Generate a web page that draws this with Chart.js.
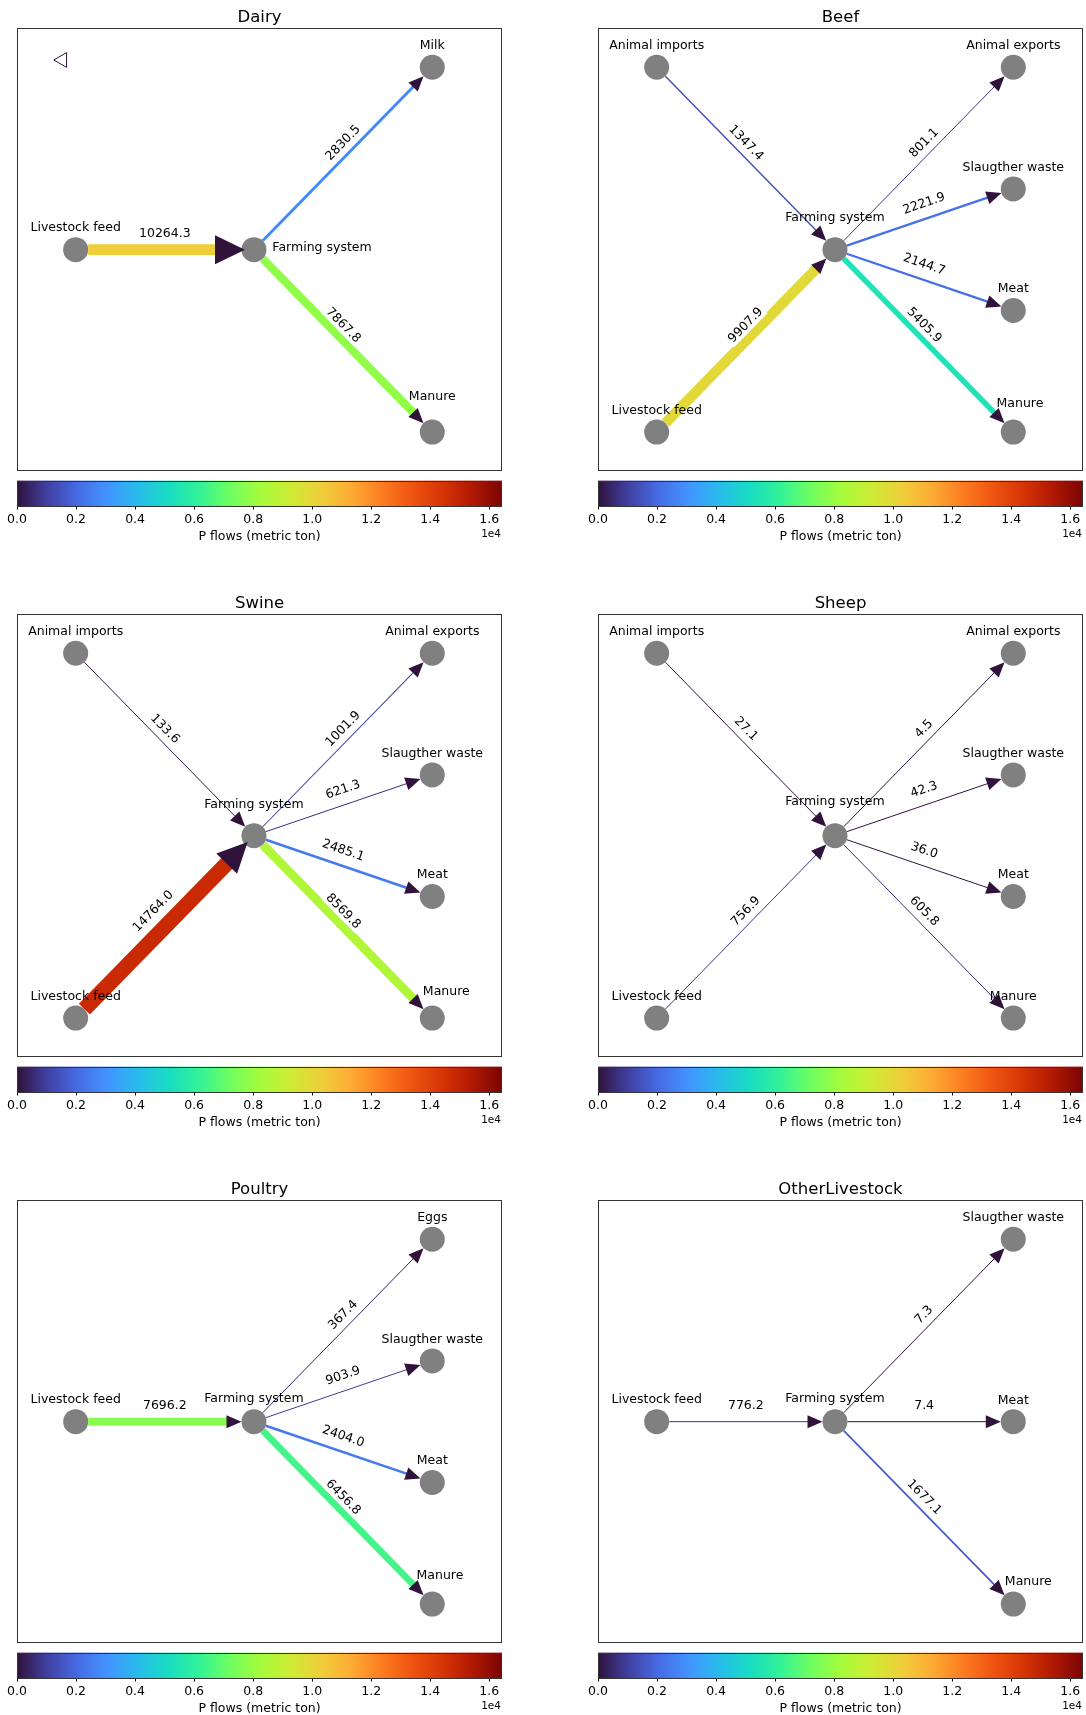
<!DOCTYPE html>
<html>
<head>
<meta charset="utf-8">
<title>P flows by livestock category</title>
<script src="https://cdn.jsdelivr.net/npm/chart.js@4.4.1/dist/chart.umd.min.js"></script>
<style>
  body { margin: 0; background: #fff; }
  #page { position: relative; width: 1086px; height: 1715px; overflow: hidden; }
  canvas { position: absolute; }
</style>
</head>
<body>
<div id="page"></div>
<script>
/* flujos de P (toneladas) por categoria */
const dairyFrom = ['Livestock feed', 'Farming system', 'Farming system']
const dairyTo = ['Farming system', 'Milk', 'Manure']
const dairyFlows = [10264.3, 2830.5, 7867.8]

const beefFrom = ['Animal imports', 'Livestock feed', 'Farming system', 'Farming system', 'Farming system', 'Farming system']
const beefTo = ['Farming system', 'Farming system', 'Animal exports', 'Slaugther waste', 'Meat', 'Manure']
const beefFlows = [1347.4, 9907.9, 801.1, 2221.9, 2144.7, 5405.9]

const swineFrom = beefFrom
const swineTo = beefTo
const swineFlows = [133.6, 14764.0, 1001.9, 621.3, 2485.1, 8569.8]

const sheepFrom = beefFrom
const sheepTo = beefTo
const sheepFlows = [27.1, 756.9, 4.5, 42.3, 36.0, 605.8]

const poultryFrom = ['Livestock feed', 'Farming system', 'Farming system', 'Farming system', 'Farming system']
const poultryTo = ['Farming system', 'Eggs', 'Slaugther waste', 'Meat', 'Manure']
const poultryFlows = [7696.2, 367.4, 903.9, 2404.0, 6456.8]

const otherFrom = ['Livestock feed', 'Farming system', 'Farming system', 'Farming system']
const otherTo = ['Farming system', 'Slaugther waste', 'Meat', 'Manure']
const otherFlows = [776.2, 7.3, 7.4, 1677.1]

/* barra de colores */
const cbarMax = 16430
const cbarTicks = [0, 2000, 4000, 6000, 8000, 10000, 12000, 14000, 16000]
const cbarTickLabels = ['0.0', '0.2', '0.4', '0.6', '0.8', '1.0', '1.2', '1.4', '1.6']

/* posiciones de los nodos (layout) */
const posFull = { 'Animal imports': [0, 3], 'Livestock feed': [0, 0], 'Farming system': [1, 1.5],
  'Animal exports': [2, 3], 'Slaugther waste': [2, 2], 'Meat': [2, 1], 'Manure': [2, 0] }
const posDairy = { 'Livestock feed': [0, 1.5], 'Farming system': [1, 1.5], 'Milk': [2, 3], 'Manure': [2, 0] }
const posPoultry = { 'Livestock feed': [0, 1.5], 'Farming system': [1, 1.5], 'Eggs': [2, 3],
  'Slaugther waste': [2, 2], 'Meat': [2, 1], 'Manure': [2, 0] }
const posOther = { 'Livestock feed': [0, 1.5], 'Farming system': [1, 1.5], 'Slaugther waste': [2, 3],
  'Meat': [2, 1.5], 'Manure': [2, 0] }

const panels = [
  { title: 'Dairy', col: 0, row: 0, from: dairyFrom, to: dairyTo, flows: dairyFlows, pos: posDairy,
    labels: { 'Farming system': [18.4, -2, 'left'], 'Manure': [0, -35] }, big: ['Livestock feed'], stray: { x: -0.075, y: 3.06 } },
  { title: 'Beef', col: 1, row: 0, from: beefFrom, to: beefTo, flows: beefFlows, pos: posFull,
    labels: { 'Farming system': [0, -32], 'Manure': [6.7, -28] }, big: [] },
  { title: 'Swine', col: 0, row: 1, from: swineFrom, to: swineTo, flows: swineFlows, pos: posFull,
    labels: { 'Farming system': [0, -31], 'Manure': [14, -26] }, big: ['Livestock feed'],
    edgeLabelShift: { 'Livestock feed': [-11.5, 0] } },
  { title: 'Sheep', col: 1, row: 1, from: sheepFrom, to: sheepTo, flows: sheepFlows, pos: posFull,
    labels: { 'Farming system': [0, -33.5] }, big: [] },
  { title: 'Poultry', col: 0, row: 2, from: poultryFrom, to: poultryTo, flows: poultryFlows, pos: posPoultry,
    labels: { 'Farming system': [0, -23], 'Manure': [7.7, -28] }, big: [] },
  { title: 'OtherLivestock', col: 1, row: 2, from: otherFrom, to: otherTo, flows: otherFlows, pos: posOther,
    labels: { 'Farming system': [0, -23.4], 'Manure': [15, -22], 'Meat': [0, -21] }, big: [] }
]

const COL_X = [0, 581]
const ROW_Y = [0, 586, 1172]
const FONT = '"DejaVu Sans", sans-serif'
const NODE_R = 12.5
const HEAD_SMALL = { len: 15, half: 6.5, tip: 12.5 }
const HEAD_BIG = { len: 30, half: 14.5, tip: 9 }
const HEAD_COLOR = '#30123b'

Chart.defaults.font.family = FONT
Chart.defaults.color = '#000'

/* colormap turbo (17 puntos de la tabla) */
const turboStops = [[48,18,59],[64,64,162],[70,107,227],[66,148,255],[40,188,235],[24,221,194],
  [50,242,152],[109,254,98],[164,252,60],[205,236,52],[238,207,58],[253,172,52],[252,126,33],
  [240,85,17],[215,53,6],[177,25,2],[122,4,3]]
const turbo = (t) => {
  t = Math.min(1, Math.max(0, t)) * (turboStops.length - 1)
  const i = Math.min(turboStops.length - 2, Math.floor(t))
  const f = t - i
  const a = turboStops[i], b = turboStops[i + 1]
  const c = a.map((v, k) => Math.round(v + (b[k] - v) * f))
  return `rgb(${c[0]},${c[1]},${c[2]})`
}

function edgeGeom(chart, ds) {
  const xs = chart.scales.x, ys = chart.scales.y
  const a = ds.data[0], b = ds.data[1]
  const x1 = xs.getPixelForValue(a.x), y1 = ys.getPixelForValue(a.y)
  const x2 = xs.getPixelForValue(b.x), y2 = ys.getPixelForValue(b.y)
  const L = Math.hypot(x2 - x1, y2 - y1)
  return { x1, y1, x2, y2, ux: (x2 - x1) / L, uy: (y2 - y1) / L }
}

const drawFrame = (chart) => {
  const a = chart.chartArea
  const ctx = chart.ctx
  ctx.save()
  ctx.strokeStyle = '#333'
  ctx.lineWidth = 1
  ctx.strokeRect(Math.round(a.left) + 0.5, Math.round(a.top) + 0.5, Math.round(a.right - a.left) - 1, Math.round(a.bottom - a.top) - 1)
  ctx.restore()
}

const flowPlugin = {
  id: 'flow',
  afterDatasetsUpdate(chart) {
    chart.data.datasets.forEach((ds, i) => {
      if (!ds.edge) return
      const g = edgeGeom(chart, ds)
      const h = ds.edge.big ? HEAD_BIG : HEAD_SMALL
      const pts = chart.getDatasetMeta(i).data
      pts[0].x = g.x1 + g.ux * NODE_R
      pts[0].y = g.y1 + g.uy * NODE_R
      const back = h.tip + h.len - 1
      pts[1].x = g.x2 - g.ux * back
      pts[1].y = g.y2 - g.uy * back
    })
  },
  afterDatasetsDraw(chart) {
    const ctx = chart.ctx
    const p = chart.options.plugins.flow
    const edges = chart.data.datasets.filter(ds => ds.edge)
    ctx.save()
    // puntas de flecha
    edges.forEach(ds => {
      const g = edgeGeom(chart, ds)
      const h = ds.edge.big ? HEAD_BIG : HEAD_SMALL
      const tx = g.x2 - g.ux * h.tip, ty = g.y2 - g.uy * h.tip
      const bx = tx - g.ux * h.len, by = ty - g.uy * h.len
      ctx.beginPath()
      ctx.moveTo(tx, ty)
      ctx.lineTo(bx - g.uy * h.half, by + g.ux * h.half)
      ctx.lineTo(bx + g.uy * h.half, by - g.ux * h.half)
      ctx.closePath()
      ctx.fillStyle = HEAD_COLOR
      ctx.fill()
    })
    // etiquetas de nodos
    ctx.font = '12.5px ' + FONT
    ctx.textBaseline = 'middle'
    ctx.fillStyle = '#000'
    Object.keys(p.pos).forEach(name => {
      const [x, y] = p.pos[name]
      const off = p.labels[name] || [0, -21.5]
      ctx.textAlign = off[2] || 'center'
      ctx.fillText(name, chart.scales.x.getPixelForValue(x) + off[0], chart.scales.y.getPixelForValue(y) + off[1])
    })
    // etiquetas de flujos
    edges.forEach(ds => {
      const g = edgeGeom(chart, ds)
      let ang = Math.atan2(g.y2 - g.y1, g.x2 - g.x1)
      if (ang > Math.PI / 2) ang -= Math.PI
      if (ang < -Math.PI / 2) ang += Math.PI
      const txt = ds.edge.flow.toFixed(1)
      const w = ctx.measureText(txt).width
      const sh = ds.edge.shift || [0, 0]
      ctx.save()
      ctx.translate((g.x1 + g.x2) / 2 + sh[0], (g.y1 + g.y2) / 2 - 15.5 + sh[1])
      ctx.rotate(ang)
      ctx.fillStyle = '#fff'
      ctx.fillRect(-w / 2 - 2, -7, w + 4, 14)
      ctx.fillStyle = '#000'
      ctx.textAlign = 'center'
      ctx.fillText(txt, 0, 0)
      ctx.restore()
    })
    ctx.restore()
  },
  afterDraw: drawFrame
}

const cbarPlugin = {
  id: 'cbarFrame',
  afterDraw(chart) {
    drawFrame(chart)
    const a = chart.chartArea
    const ctx = chart.ctx
    ctx.save()
    ctx.font = '10.5px ' + FONT
    ctx.fillStyle = '#000'
    ctx.textAlign = 'right'
    ctx.textBaseline = 'middle'
    ctx.fillText('1e4', a.right - 1, a.bottom + 28.5)
    ctx.restore()
  }
}

const page = document.getElementById('page')
const makeCanvas = (left, top, w, h) => {
  const c = document.createElement('canvas')
  c.width = w
  c.height = h
  c.style.left = left + 'px'
  c.style.top = top + 'px'
  c.style.width = w + 'px'
  c.style.height = h + 'px'
  page.appendChild(c)
  return c
}

panels.forEach(p => {
  const x0 = COL_X[p.col], y0 = ROW_Y[p.row]
  const shifts = p.edgeLabelShift || {}

  const edgeSets = p.flows.map((flow, i) => {
    const a = p.pos[p.from[i]], b = p.pos[p.to[i]]
    return {
      data: [{ x: a[0], y: a[1] }, { x: b[0], y: b[1] }],
      showLine: true,
      pointRadius: 0,
      borderColor: turbo(flow / cbarMax),
      borderWidth: Math.max(1, flow / 960),
      order: 1,
      edge: { flow, big: p.to[i] === 'Farming system' && p.big.includes(p.from[i]),
        shift: p.to[i] === 'Farming system' ? shifts[p.from[i]] : undefined }
    }
  })
  const nodeSet = {
    data: Object.keys(p.pos).map(n => ({ x: p.pos[n][0], y: p.pos[n][1] })),
    pointRadius: NODE_R,
    pointHoverRadius: NODE_R,
    backgroundColor: '#808080',
    borderWidth: 0,
    order: 0
  }
  const sets = [...edgeSets, nodeSet]
  if (p.stray) {
    sets.push({ data: [p.stray], pointStyle: 'triangle', rotation: 270, pointRadius: 8.5,
      backgroundColor: 'rgba(0,0,0,0)', borderColor: HEAD_COLOR, borderWidth: 1, order: 0 })
  }

  new Chart(makeCanvas(x0 + 12, y0, 495, 476), {
    type: 'scatter',
    data: { datasets: sets },
    options: {
      responsive: false,
      animation: false,
      events: [],
      layout: { autoPadding: false, padding: { left: 5, right: 5, top: 0, bottom: 5 } },
      scales: {
        x: { display: false, min: -0.329, max: 2.391 },
        y: { display: false, min: -0.32, max: 3.323 }
      },
      plugins: {
        legend: { display: false },
        tooltip: { enabled: false },
        title: { display: true, text: p.title, color: '#000', font: { size: 16.5, weight: 'normal' }, padding: { top: 8.1, bottom: 0.1 } },
        flow: { pos: p.pos, labels: p.labels }
      }
    },
    plugins: [flowPlugin]
  })

  new Chart(makeCanvas(x0, y0 + 470, 540, 78), {
    type: 'bar',
    data: {
      labels: [''],
      datasets: [{
        data: [[0, cbarMax]],
        barPercentage: 1,
        categoryPercentage: 1,
        borderWidth: 0,
        backgroundColor: (c) => {
          const area = c.chart.chartArea
          if (!area) return turbo(0)
          const grad = c.chart.ctx.createLinearGradient(area.left, 0, area.right, 0)
          turboStops.forEach((s, i) => grad.addColorStop(i / (turboStops.length - 1), turbo(i / (turboStops.length - 1))))
          return grad
        }
      }]
    },
    options: {
      indexAxis: 'y',
      responsive: false,
      animation: false,
      events: [],
      layout: { autoPadding: false, padding: { left: 17, right: 38, top: 10.5, bottom: 0 } },
      plugins: { legend: { display: false }, tooltip: { enabled: false } },
      scales: {
        y: { display: false },
        x: {
          type: 'linear', min: 0, max: cbarMax,
          afterBuildTicks: (s) => { s.ticks = cbarTicks.map(v => ({ value: v })) },
          afterFit: (s) => { s.height = 42; s.paddingLeft = 0; s.paddingRight = 0 },
          border: { display: false },
          grid: { drawOnChartArea: false, drawTicks: true, tickLength: 3.5, color: '#000', lineWidth: 1 },
          ticks: { padding: 3, color: '#000', font: { size: 12.5 }, maxRotation: 0, autoSkip: false,
            callback: (v, i) => cbarTickLabels[i] },
          title: { display: true, text: 'P flows (metric ton)', color: '#000', font: { size: 12.5 }, padding: { top: 0, bottom: 3.5 } }
        }
      }
    },
    plugins: [cbarPlugin]
  })
})
</script>
</body>
</html>
